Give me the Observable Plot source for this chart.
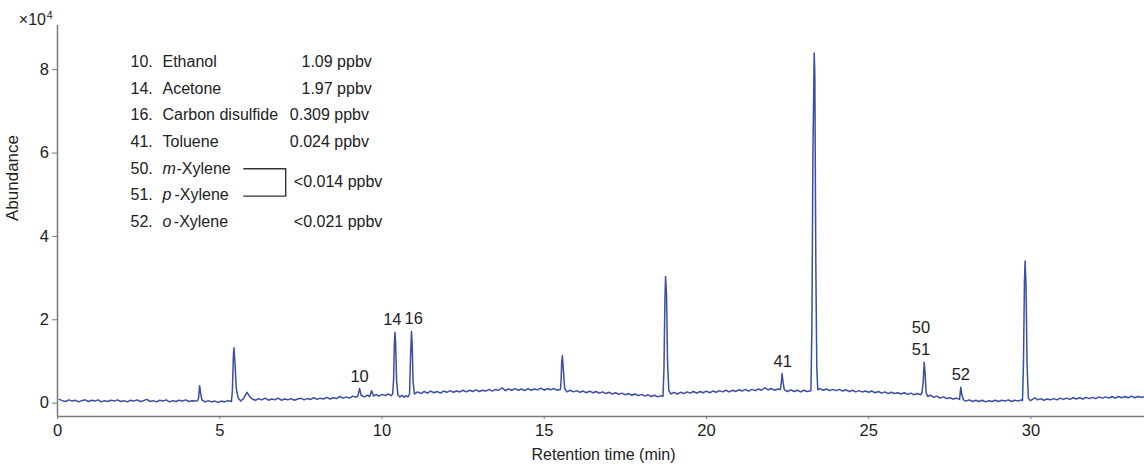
<!DOCTYPE html>
<html>
<head>
<meta charset="utf-8">
<script src="https://cdn.jsdelivr.net/npm/d3@7"></script>
<script src="https://cdn.jsdelivr.net/npm/@observablehq/plot@0.6"></script>
<style>
  html, body { margin: 0; padding: 0; background: #fff; }
</style>
</head>
<body>
<div id="chart"></div>
<script>
// ---------- DATA ----------
// retention time (min)
const times = [
  // 0 - 4.3 min baseline
  0.05,0.15,0.25,0.35,0.45,0.55,0.65,0.75,0.85,0.95,1.05,1.15,1.25,1.35,1.45,1.55,1.65,1.75,1.85,1.95,
  2.05,2.15,2.25,2.35,2.45,2.55,2.65,2.75,2.85,2.95,3.05,3.15,3.25,3.35,3.45,3.55,3.65,3.75,3.85,3.95,4.05,4.15,4.25,4.32,
  // peak at 4.4
  4.35,4.38,4.41,
  4.45,4.55,4.65,4.75,4.85,4.95,5.05,5.15,5.25,5.36,
  // peak at 5.4
  5.39,5.42,5.44,5.47,5.51,5.57,5.65,5.74,5.84,5.93,
  6.0,6.1,6.2,6.3,6.4,6.5,6.6,6.7,6.8,6.9,7.0,7.1,7.2,7.3,7.4,7.5,7.6,7.7,7.8,7.9,
  8.0,8.1,8.2,8.3,8.4,8.5,8.6,8.7,8.8,8.9,9.0,9.1,9.2,9.26,
  // peak 10
  9.31,9.36,9.45,9.55,9.62,9.68,9.74,9.82,9.9,10.0,10.1,10.2,10.28,10.33,
  // peak 14
  10.36,10.38,10.40,10.42,10.45,10.49,10.55,10.62,10.68,10.74,10.8,10.85,
  // peak 16
  10.88,10.91,10.93,10.96,
  11.0,11.1,11.2,11.3,11.4,11.5,11.6,11.7,11.8,11.9,12.0,12.1,12.2,12.3,12.4,12.5,12.6,12.7,12.8,12.9,
  13.0,13.1,13.2,13.3,13.4,13.5,13.6,13.7,13.8,13.9,14.0,14.1,14.2,14.3,14.4,14.5,14.6,14.7,14.8,14.9,
  15.0,15.1,15.2,15.3,15.4,15.5,
  // peak at 15.6
  15.52,15.54,15.56,15.59,15.63,
  15.7,15.8,15.9,16.0,16.1,16.2,16.3,16.4,16.5,16.6,16.7,16.8,16.9,17.0,17.1,17.2,17.3,17.4,17.5,17.6,
  17.7,17.8,17.9,18.0,18.1,18.2,18.3,18.4,18.5,18.6,18.66,
  // peak at 18.7
  18.69,18.72,18.74,18.77,18.80,18.84,
  18.9,19.0,19.1,19.2,19.3,19.4,19.5,19.6,19.7,19.8,19.9,20.0,20.1,20.2,20.3,20.4,20.5,20.6,20.7,20.8,
  20.9,21.0,21.1,21.2,21.3,21.4,21.5,21.6,21.7,21.8,21.9,22.0,22.1,22.2,22.28,
  // peak 41
  22.31,22.33,22.36,22.40,
  22.5,22.6,22.7,22.8,22.9,23.0,23.1,23.22,
  // main peak at 23.3
  23.25,23.28,23.32,23.34,23.37,23.40,23.43,
  23.5,23.6,23.7,23.8,23.9,24.0,24.1,24.2,24.3,24.4,24.5,24.6,24.7,24.8,24.9,25.0,25.1,25.2,25.3,25.4,
  25.5,25.6,25.7,25.8,25.9,26.0,26.1,26.2,26.3,26.4,26.5,26.6,26.64,
  // peaks 50/51
  26.68,26.71,26.74,26.77,
  26.82,26.9,27.0,27.1,27.2,27.3,27.4,27.5,27.6,27.7,27.8,
  // peak 52
  27.82,27.84,27.87,27.92,
  28.0,28.1,28.2,28.3,28.4,28.5,28.6,28.7,28.8,28.9,29.0,29.1,29.2,29.3,29.4,29.5,29.6,29.7,29.74,
  // peak at 29.8
  29.77,29.80,29.82,29.85,29.88,29.92,
  29.98,30.05,30.12,30.2,30.3,30.4,30.5,30.6,30.7,30.8,30.9,31.0,31.1,31.2,31.3,31.4,31.5,31.6,31.7,31.8,
  31.9,32.0,32.1,32.2,32.3,32.4,32.5,32.6,32.7,32.8,32.9,33.0,33.1,33.2,33.3,33.4,33.5
];
// abundance (x10^4)
const abundance = [
  0.09,0.06,0.04,0.08,0.05,0.07,0.03,0.06,0.08,0.04,0.07,0.05,0.08,0.03,0.06,0.04,0.07,0.05,0.08,0.04,
  0.06,0.03,0.07,0.05,0.08,0.04,0.06,0.09,0.04,0.06,0.03,0.07,0.05,0.08,0.03,0.06,0.04,0.07,0.05,0.08,0.04,0.06,0.05,0.06,
  0.14,0.42,0.24,
  0.08,0.03,0.06,0.03,0.05,0.02,0.05,0.03,0.06,0.04,
  0.30,1.15,1.33,0.95,0.35,0.12,0.05,0.12,0.26,0.15,
  0.10,0.07,0.11,0.08,0.12,0.07,0.10,0.08,0.12,0.07,0.10,0.08,0.11,0.07,0.10,0.12,0.08,0.11,0.09,0.13,
  0.09,0.12,0.10,0.14,0.10,0.13,0.11,0.16,0.12,0.15,0.12,0.17,0.14,0.18,
  0.35,0.19,0.15,0.19,0.16,0.30,0.17,0.21,0.17,0.21,0.18,0.22,0.18,0.22,
  0.60,1.40,1.70,1.45,0.55,0.20,0.15,0.19,0.14,0.18,0.15,0.22,
  1.10,1.72,1.40,0.50,
  0.22,0.27,0.23,0.28,0.24,0.29,0.25,0.28,0.24,0.29,0.26,0.30,0.26,0.29,0.27,0.31,0.27,0.31,0.28,0.32,
  0.28,0.31,0.29,0.33,0.29,0.33,0.31,0.37,0.30,0.34,0.31,0.35,0.31,0.34,0.30,0.35,0.31,0.34,0.32,0.36,
  0.31,0.35,0.32,0.35,0.31,0.33,
  0.55,1.00,1.14,0.80,0.35,
  0.27,0.31,0.27,0.30,0.26,0.29,0.25,0.29,0.25,0.28,0.24,0.27,0.23,0.26,0.22,0.25,0.21,0.24,0.20,0.23,
  0.19,0.22,0.18,0.21,0.17,0.20,0.16,0.19,0.15,0.18,0.16,
  0.80,2.50,3.04,2.60,1.00,0.30,
  0.22,0.26,0.22,0.26,0.23,0.27,0.24,0.28,0.24,0.28,0.25,0.29,0.25,0.29,0.26,0.30,0.27,0.31,0.27,0.31,
  0.28,0.32,0.29,0.33,0.29,0.33,0.30,0.34,0.31,0.37,0.32,0.35,0.31,0.34,0.33,
  0.52,0.71,0.50,0.32,
  0.28,0.32,0.28,0.31,0.27,0.31,0.28,0.30,
  1.80,5.90,8.40,7.90,3.40,0.86,0.32,
  0.35,0.31,0.34,0.30,0.33,0.30,0.33,0.29,0.32,0.28,0.31,0.27,0.30,0.27,0.29,0.26,0.29,0.25,0.28,0.24,
  0.27,0.23,0.26,0.23,0.25,0.22,0.25,0.21,0.24,0.20,0.23,0.20,0.24,
  0.50,0.98,0.70,0.25,
  0.16,0.19,0.14,0.17,0.12,0.15,0.11,0.13,0.10,0.12,0.09,
  0.25,0.38,0.20,0.08,
  0.05,0.08,0.04,0.07,0.04,0.07,0.03,0.06,0.04,0.07,0.04,0.07,0.05,0.08,0.04,0.07,0.05,0.08,0.06,
  0.95,2.90,3.41,2.80,0.95,0.12,
  0.06,0.09,0.13,0.08,0.11,0.07,0.10,0.08,0.11,0.08,0.12,0.09,0.12,0.09,0.13,0.10,0.13,0.10,0.14,0.11,
  0.14,0.11,0.15,0.12,0.15,0.12,0.16,0.12,0.16,0.13,0.16,0.13,0.17,0.13,0.16,0.14,0.15
];

// peak annotations
const peakLabels  = ["10", "14", "16", "41", "50\n51", "52"];
const labelTimes  = [9.31, 10.32, 10.98, 22.35, 26.61, 27.84];
const peakHeights = [0.35, 1.70, 1.72, 0.71, 0.98, 0.38];

// compound legend
const legendNumbers  = ["10.", "14.", "16.", "41.", "50.", "51.", "52."];
const legendPrefixes = ["", "", "", "", "m", "p", "o"];
const legendNames    = ["Ethanol", "Acetone", "Carbon disulfide", "Toluene", "-Xylene", "-Xylene", "-Xylene"];
const concentrations = ["1.09 ppbv", "1.97 ppbv", "0.309 ppbv", "0.024 ppbv", "<0.014 ppbv", "<0.021 ppbv"];
const concentrationRows = [0, 1, 2, 3, 4.5, 6];

// axes
const xTicks = [0, 5, 10, 15, 20, 25, 30];
const yTicks = [0, 2, 4, 6, 8];
const xDomain = [0, 33.5];
const yDomain = [-0.32, 9.06];

// ---------- LAYOUT ----------
const W = 1144, H = 466;
const M = {left: 57, right: 0, top: 25, bottom: 50};
const lineColor = "#3a4ea5";
const axisColor = "#7a7a7a";
const textColor = "#222";
const rowY0 = 61.7, rowStep = 26.55;      // legend row centres (px)
const numX = 130, nameX = 162;            // legend column starts (px)
const nameAfterPrefix = [0, 0, 0, 0, 176, 174, 173.3];
const concX = [301, 301, 289.3, 289.3, 293.3, 293.3];

const trace = times.map((t, i) => ({t, v: abundance[i]}));
const labels = peakLabels.map((s, i) => ({s, x: labelTimes[i], y: peakHeights[i]}));

const legendMarks = [];
legendNumbers.forEach((n, i) => {
  const dy = rowY0 + rowStep * i - M.top;
  legendMarks.push(Plot.text([n], {frameAnchor: "top-left", dx: numX - M.left, dy, textAnchor: "start", lineAnchor: "middle", fill: textColor, fontSize: 16}));
  if (legendPrefixes[i]) {
    legendMarks.push(Plot.text([legendPrefixes[i]], {frameAnchor: "top-left", dx: nameX - M.left, dy, textAnchor: "start", lineAnchor: "middle", fill: textColor, fontSize: 16, fontStyle: "italic"}));
    legendMarks.push(Plot.text([legendNames[i]], {frameAnchor: "top-left", dx: nameAfterPrefix[i] - M.left, dy, textAnchor: "start", lineAnchor: "middle", fill: textColor, fontSize: 16}));
  } else {
    legendMarks.push(Plot.text([legendNames[i]], {frameAnchor: "top-left", dx: nameX - M.left, dy, textAnchor: "start", lineAnchor: "middle", fill: textColor, fontSize: 16}));
  }
});
concentrations.forEach((c, i) => {
  const dy = rowY0 + rowStep * concentrationRows[i] - M.top;
  legendMarks.push(Plot.text([c], {frameAnchor: "top-left", dx: concX[i] - M.left, dy, textAnchor: "start", lineAnchor: "middle", fill: textColor, fontSize: 16}));
});

// bracket joining m- and p-xylene
const bracket = () => {
  const x0 = 243.3, x1 = 285.7;
  const y0 = rowY0 + rowStep * 4 + 0.8, y1 = rowY0 + rowStep * 5 + 1.7;
  return d3.create("svg:path")
    .attr("d", `M${x0},${y0}H${x1}V${y1}H${x0}`)
    .attr("fill", "none").attr("stroke", "#333").attr("stroke-width", 1.4)
    .node();
};

const chart = Plot.plot({
  width: W, height: H,
  marginLeft: M.left, marginRight: M.right, marginTop: M.top, marginBottom: M.bottom,
  style: {fontFamily: "'Liberation Sans', Arial, sans-serif", fontSize: "16px", color: textColor, background: "#fff"},
  x: {domain: xDomain},
  y: {domain: yDomain},
  marks: [
    Plot.axisX({ticks: xTicks, tickSize: 3, tickPadding: 5, label: null, fontSize: 16.5, stroke: axisColor, fill: textColor}),
    Plot.axisY({ticks: yTicks, tickSize: 5, tickPadding: 3.5, label: null, fontSize: 16.5, stroke: axisColor, fill: textColor}),
    Plot.ruleX([xDomain[0]], {stroke: axisColor, strokeWidth: 1.5}),
    Plot.ruleY([yDomain[0]], {stroke: axisColor, strokeWidth: 1.5}),
    Plot.line(trace, {x: "t", y: "v", stroke: lineColor, strokeWidth: 1.5, strokeLinejoin: "round"}),
    Plot.text(labels, {x: "x", y: "y", text: "s", lineAnchor: "bottom", dy: -7, fontSize: 16.5, lineHeight: 1.35, fill: textColor}),
    Plot.text(["Retention time (min)"], {frameAnchor: "bottom", dx: 2.5, dy: 38, lineAnchor: "middle", fontSize: 16, fill: textColor}),
    Plot.text(["Abundance"], {frameAnchor: "left", dx: -45, rotate: -90, lineAnchor: "middle", fontSize: 17, fill: textColor}),
    Plot.text(["×10"], {frameAnchor: "top-left", dx: -11.5, dy: -5.5, textAnchor: "end", lineAnchor: "middle", fontSize: 16, fill: textColor}),
    Plot.text(["4"], {frameAnchor: "top-left", dx: -10.8, dy: -10, textAnchor: "start", lineAnchor: "middle", fontSize: 10.5, fill: textColor}),
    ...legendMarks,
    bracket
  ]
});
document.getElementById("chart").appendChild(chart);
</script>
</body>
</html>
